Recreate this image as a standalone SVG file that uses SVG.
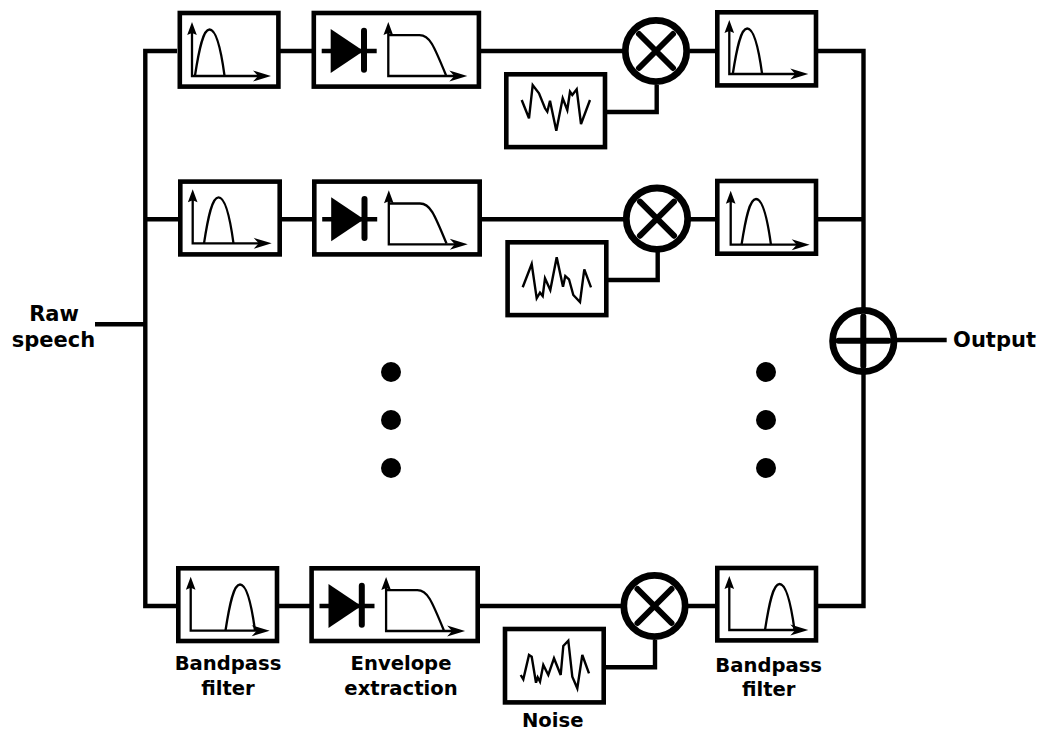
<svg xmlns="http://www.w3.org/2000/svg" width="1049" height="731" viewBox="0 0 1049 731">
<style>
.box{fill:#fff;stroke:#000;stroke-width:4.6}
.wire{fill:none;stroke:#000;stroke-width:4.4}
.thin{fill:none;stroke:#000;stroke-width:2.3}
.mix{fill:#fff;stroke:#000;stroke-width:6.8}
.cross{fill:none;stroke:#000;stroke-width:6;stroke-linecap:round}
.wave{fill:none;stroke:#000;stroke-width:2.4;stroke-linejoin:miter}
text{font-family:"DejaVu Sans",sans-serif;font-weight:bold;font-size:19.6px;fill:#000;text-anchor:middle}
.big{font-size:21px}
</style>
<defs>
<g id="axes">
<path class="thin" d="M0,-46V0H70"/>
<path d="M0,-54L4.8,-41L0,-43L-4.8,-41Z"/>
<path d="M79,0L61,-5.5L66,0L61,5.5Z"/>
</g>
<path id="bump" class="thin" d="M0,0C4,-26 8,-46 14.5,-46C21,-46 26,-26 29.5,0"/>
<g id="envIcons">
<path d="M10.2,40.3H65.2" class="wire"/>
<path d="M19.2,18.3V62.3L52,40.3Z"/>
<path d="M52.5,20V59" fill="none" stroke="#000" stroke-width="6" stroke-linecap="round"/>
<use href="#axes" x="76.8" y="65.3"/>
<path class="thin" d="M76.8,24.5H108C118,24.5 122,34 134.5,64.5"/>
</g>
<g id="crossMark"><path class="cross" d="M-17,-17L17,17M17,-17L-17,17"/></g>
</defs>
<g id="connectors">
<path class="wire" d="M95,324.3H145.3M177,51H145.3V606H176M145.3,219.3H178M280,51H312M481,51H656M690,51H716M818,51H863.5V606H818M818,219.3H863.5"/>
<path class="wire" d="M282,219.3H312M482,219.3H657M690,219.3H716"/>
<path class="wire" d="M279,606H310M480,606H655M688,606H716"/>
<path class="wire" d="M607,112H656.7V85M608,280H657.7V252M606,667.3H655V640"/>
<path class="wire" d="M897,340H946.7"/>
</g>
<g id="bp1"><rect class="box" x="179.8" y="13" width="98.6" height="73.6"/><use href="#axes" x="192" y="76"/><use href="#bump" x="195" y="75.5"/></g>
<g id="env1"><rect class="box" x="313.8" y="13" width="165.1" height="73.6"/><use href="#envIcons" x="311.5" y="10.7"/></g>
<g id="mix1"><circle class="mix" cx="656" cy="51" r="30.7"/><use href="#crossMark" x="656" y="51"/></g>
<g id="noise1"><rect class="box" x="506.3" y="74.3" width="98.7" height="72.8"/><polyline class="wave" points="521.7,100 529,118.3 532.7,85 539,93.3 545,108.3 547.3,111.7 550,100.7 556.3,130.7 562.7,98.3 567.3,110 570,91.7 572.3,95 576.7,89.3 581,124 590,100"/></g>
<g id="bpr1"><rect class="box" x="717.3" y="12.3" width="98.7" height="73.1"/><use href="#axes" x="729.3" y="74"/><use href="#bump" x="732.7" y="74.5"/></g>

<g id="bp2"><rect class="box" x="180.3" y="181.6" width="99.4" height="72.8"/><use href="#axes" x="192.7" y="243.3"/><use href="#bump" x="204" y="243.3"/></g>
<g id="env2"><rect class="box" x="314.3" y="181.6" width="165.4" height="72.8"/><use href="#envIcons" x="312" y="179"/></g>
<g id="mix2"><circle class="mix" cx="657" cy="218.7" r="30.7"/><use href="#crossMark" x="657" y="218.7"/></g>
<g id="noise2"><rect class="box" x="507.6" y="242.3" width="98.7" height="72.8"/><polyline class="wave" points="522.7,287.3 531.7,264 536.7,298.3 540,292.7 542.7,296 545,278.3 550.3,290 556.7,257.3 563,286.7 565.3,276 569,279.3 573.3,295 580,302 584.3,269.3 591,287.3"/></g>
<g id="bpr2"><rect class="box" x="717.3" y="181" width="98.7" height="72.7"/><use href="#axes" x="730.7" y="244.7"/><use href="#bump" x="741.5" y="245"/></g>

<g id="bp3"><rect class="box" x="178.3" y="568.3" width="98.7" height="72.7"/><use href="#axes" x="190.7" y="630.7"/><use href="#bump" x="225.5" y="630.5"/></g>
<g id="env3"><rect class="box" x="311.6" y="568.3" width="166.1" height="72.7"/><use href="#envIcons" x="309.3" y="565.7"/></g>
<g id="mix3"><circle class="mix" cx="654.5" cy="606" r="30.7"/><use href="#crossMark" x="654.5" y="606"/></g>
<g id="noise3"><rect class="box" x="505" y="629" width="98.7" height="73.4"/><polyline class="wave" points="520.7,675 523.3,679.3 529,655 531.7,656.7 536,682.7 537.7,677.3 540,681.7 543.3,665 548.3,675 554,658.3 560.7,675 563.3,646 568.3,640.7 572.3,676.7 577.3,688.3 582.3,655 589,673.3"/></g>
<g id="bpr3"><rect class="box" x="717.3" y="568" width="98.7" height="72.4"/><use href="#axes" x="729.3" y="630"/><use href="#bump" x="765" y="630"/></g>

<g id="sum"><circle class="mix" cx="863.3" cy="341" r="30.7"/><path class="cross" d="M838.5,340.7H888.5M863.3,316.5V366"/></g>
<g id="dotsLeft"><circle cx="391" cy="372" r="10"/><circle cx="391" cy="420" r="10"/><circle cx="391" cy="468" r="10"/></g>
<g id="dotsRight"><circle cx="766" cy="372" r="10"/><circle cx="766" cy="420" r="10"/><circle cx="766" cy="468" r="10"/></g>
<g id="labels">
<text class="big" x="54" y="320.7">Raw</text><text class="big" x="53.5" y="347.3">speech</text>
<text class="big" x="994.5" y="347.3">Output</text>
<text x="228" y="670">Bandpass</text><text x="228" y="695">filter</text>
<text x="401" y="670">Envelope</text><text x="401" y="695">extraction</text>
<text x="768.7" y="672">Bandpass</text><text x="768.7" y="696">filter</text>
<text x="552.7" y="727">Noise</text>
</g>
</svg>
